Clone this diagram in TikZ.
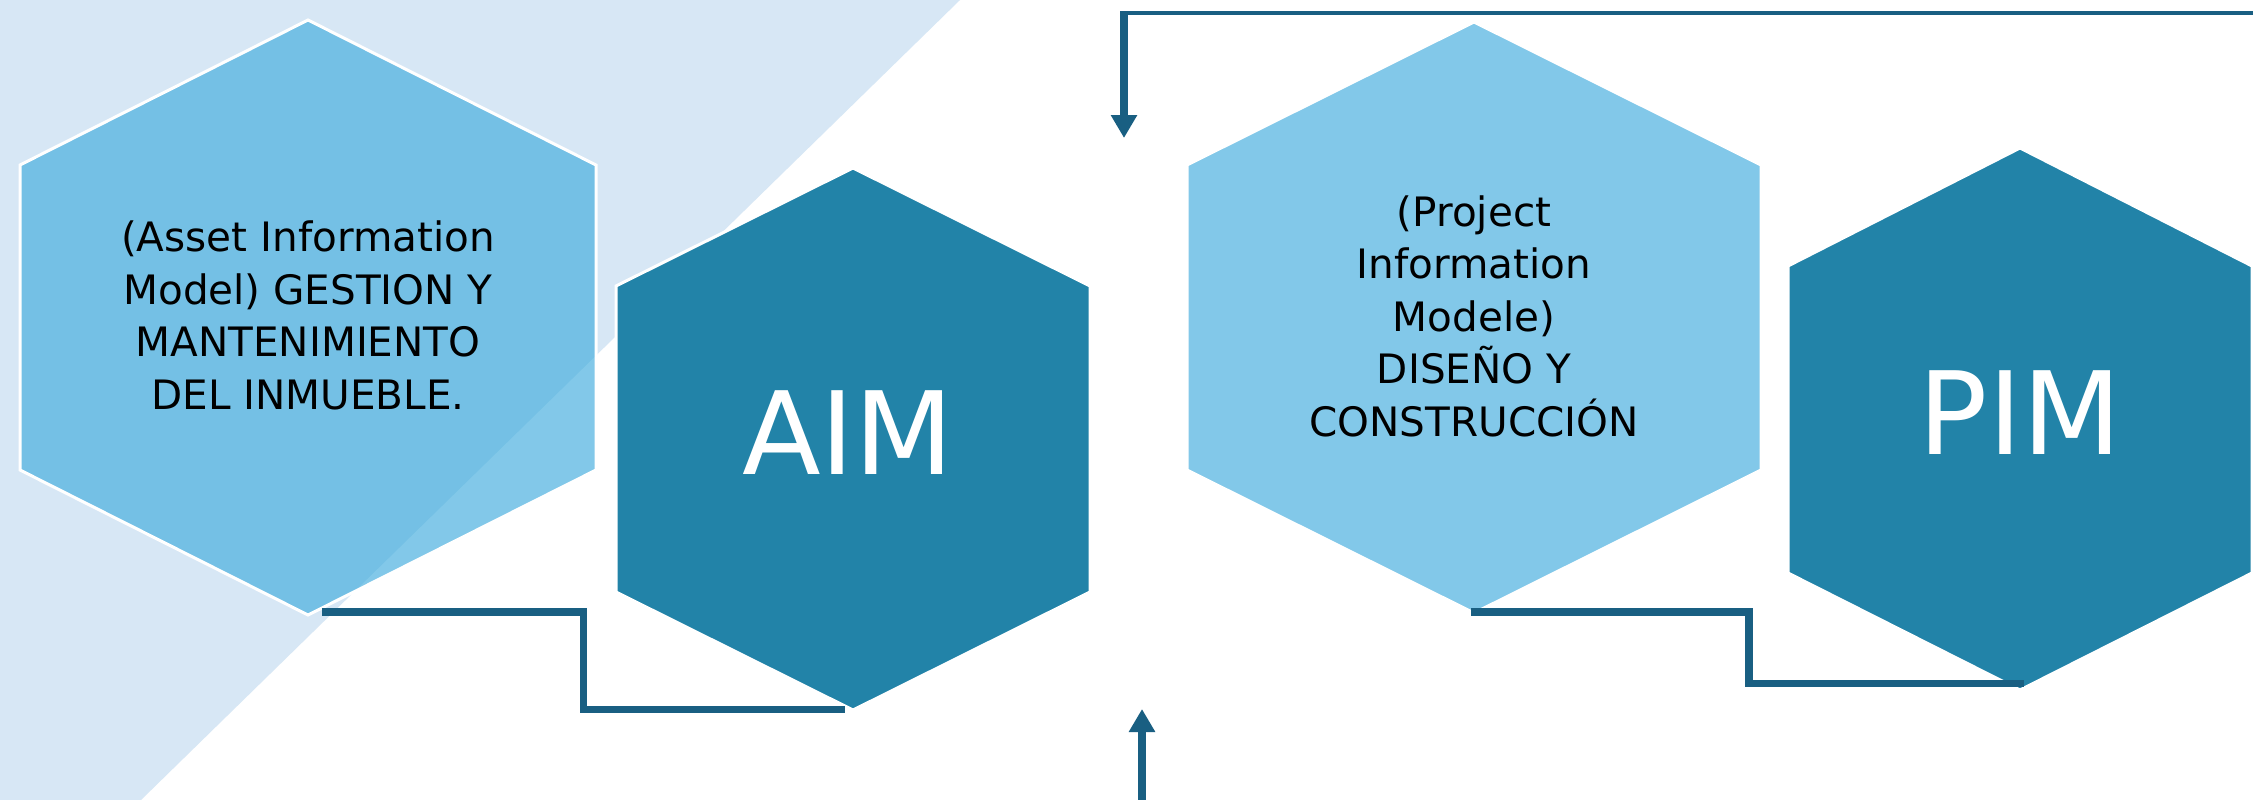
\documentclass[tikz,border=0pt]{standalone}
\usepackage{fontspec}
\setmainfont{DejaVu Sans}
\usetikzlibrary{arrows.meta}
\definecolor{bgblue}{HTML}{D7E7F5}
\definecolor{hexlight}{HTML}{42ADDE}
\definecolor{hexdark}{HTML}{2283A8}
\definecolor{linkblue}{HTML}{195F82}
% style, cx, half width, top, upper side, lower side, bottom
\newcommand\myhex[7]{%
  \path[#1] (#2,#4) -- ({#2+#3},#5) -- ({#2+#3},#6) -- (#2,#7)
    -- ({#2-#3},#6) -- ({#2-#3},#5) -- cycle;}
\tikzset{
  lighthex/.style={fill=hexlight, fill opacity=0.66, draw=white, draw opacity=1, line width=3pt, line join=miter},
  darkhex/.style={fill=hexdark, draw=white, line width=3pt, line join=miter},
  link/.style={draw=linkblue, line width=7.5pt, line join=miter},
  thinlink/.style={draw=linkblue, line width=4pt},
  arrowlink/.style={draw=linkblue, line width=8.5pt, -{Triangle[width=25pt,length=23pt]}},
  hextext/.style={font=\fontsize{40.5}{52.5}\selectfont, align=center, inner sep=0pt, anchor=base, text=black},
  bigtext/.style={font=\fontsize{115}{130}\selectfont, text=white, inner sep=0pt, anchor=base},
}
\begin{document}
\begin{tikzpicture}[x=1pt,y=-1pt]
\useasboundingbox (0,0) rectangle (2253,800);
\clip (0,0) rectangle (2253,800);
\fill[white] (0,0) rectangle (2253,800);
% background band
\fill[bgblue] (0,0) -- (960,0) -- (141,800) -- (0,800) -- cycle;
% hexagons
\myhex{lighthex}{308}{288}{20}{165}{470}{615}
\myhex{darkhex}{853}{237}{168}{286}{592}{710}
\myhex{lighthex}{1474}{287}{22}{165}{470}{613}
\myhex{darkhex}{2020}{232}{148}{266}{573}{690}
% texts (anchor base = baseline of the last line)
\node[hextext] (aimtxt) at (308,409.3) {(Asset Information\\Model) GESTION Y\\MANTENIMIENTO\\DEL INMUEBLE.};
\node[bigtext] (aim) at (848,474) {AIM};
\node[hextext] (pimtxt) at (1474,436) {(Project\\Information\\Modele)\\DISEÑO Y\\CONSTRUCCIÓN};
\node[bigtext] (pim) at (2020,454) {PIM};
% connector anchors
\coordinate (h1b) at (322,612);
\coordinate (aimb) at (845,709.5);
\coordinate (h3b) at (1471,612);
\coordinate (pimb) at (2024,683.5);
\coordinate (topr) at (2253,13.5);
\coordinate (topl) at (1124,13.5);
\coordinate (topc) at (1124,11.5);
\coordinate (toptip) at (1124,138);
\coordinate (botstart) at (1142,800);
\coordinate (bottip) at (1142,709);
% connectors
\draw[link] (h1b) -- (583.5,612) -- (583.5,709.5) -- (aimb);
\draw[link] (h3b) -- (1749,612) -- (1749,683.5) -- (pimb);
\draw[thinlink] (topr) -- (topl);
\draw[arrowlink] (topc) -- (toptip);
\draw[arrowlink] (botstart) -- (bottip);
\end{tikzpicture}
\end{document}
